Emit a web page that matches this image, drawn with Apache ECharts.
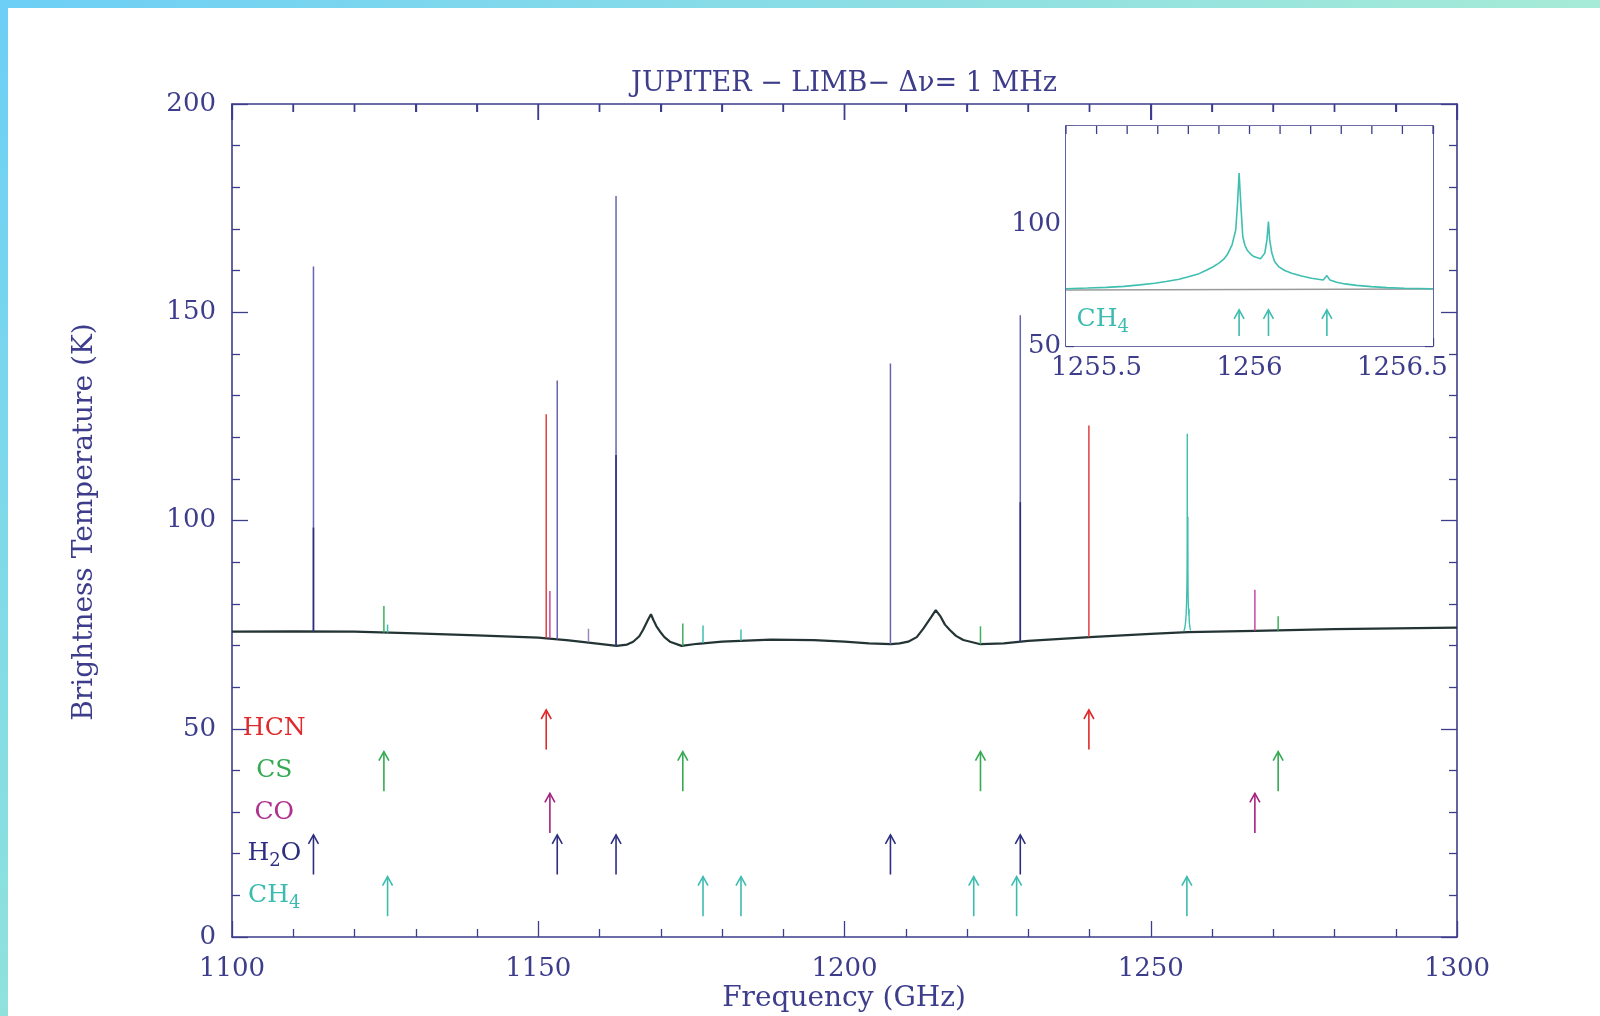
<!DOCTYPE html>
<html>
<head>
<meta charset="utf-8">
<title>Jupiter limb spectrum</title>
<script src="https://cdn.jsdelivr.net/npm/echarts@6/dist/echarts.min.js"></script>
<style>
  html, body { margin: 0; padding: 0; background: #fff; }
  #chart { width: 1600px; height: 1016px; }
</style>
</head>
<body>
<div id="chart"></div>
<script>
// continuum (GHz, K)
const contFreq = [1100, 1110, 1120, 1130, 1140, 1150, 1155, 1160, 1162.8, 1164.5, 1165.5, 1166.5, 1167.1, 1167.9,
  1168.4, 1168.8, 1169.3, 1169.9, 1170.6, 1171.5, 1173.4, 1176, 1180, 1188, 1195, 1200, 1204, 1207.6, 1209, 1210.4,
  1211.8, 1212.9, 1214.2, 1214.9, 1215.7, 1216.4, 1217.2, 1218.2, 1219.4, 1222.2, 1226, 1230, 1240, 1250, 1256,
  1267, 1280, 1290, 1300];
const contTemp = [73.3, 73.4, 73.3, 72.9, 72.4, 71.9, 71.2, 70.4, 69.9, 70.2, 70.9, 72.2, 73.7, 76.1,
  77.5, 76.1, 74.6, 73.3, 72.0, 70.9, 69.9, 70.4, 70.9, 71.4, 71.3, 70.9, 70.5, 70.3, 70.5, 70.9,
  72.0, 74.1, 76.9, 78.5, 76.9, 75.0, 73.7, 72.3, 71.3, 70.3, 70.5, 71.1, 72.0, 72.8, 73.2,
  73.5, 73.9, 74.1, 74.3];

// narrow lines: frequency, continuum under the line, peak
const h2oFreq = [1113.3, 1153.1, 1162.7, 1207.5, 1228.7];
const h2oBase = [73.4, 71.5, 69.9, 70.3, 70.9];
const h2oPeak = [161.0, 133.6, 177.9, 137.7, 149.3];
const h2oCore = [98.3, null, 115.7, null, 104.4];

const hcnFreq = [1151.3, 1239.9];
const hcnBase = [71.8, 72.0];
const hcnPeak = [125.5, 122.8];

const coFreq = [1151.9, 1267.0];
const coBase = [71.7, 73.5];
const coPeak = [83.1, 83.4];

const csFreq = [1124.8, 1173.6, 1222.2, 1270.8];
const csBase = [73.1, 69.9, 70.3, 73.6];
const csPeak = [79.5, 75.3, 74.6, 77.0];

const ch4Freq = [1125.4, 1176.9, 1183.1, 1221.1, 1228.1, 1255.9];
const ch4Base = [73.1, 70.6, 71.1, 70.4, 70.8, 73.2];
const ch4Peak = [75.0, 74.8, 73.8, null, null, null];

const otherFreq = [1158.2];
const otherBase = [70.8];
const otherPeak = [74.0];

// CH4 triplet near 1256 GHz (inset, also drawn in the main panel)
const ch4ZoomFreq = [1255.4, 1255.47, 1255.532, 1255.59, 1255.641, 1255.69, 1255.727, 1255.77, 1255.803, 1255.835,
  1255.857, 1255.88, 1255.9, 1255.915, 1255.927, 1255.943, 1255.955, 1255.961, 1255.966, 1255.972, 1255.978,
  1255.985, 1255.992, 1256.003, 1256.014, 1256.036, 1256.05, 1256.057, 1256.062, 1256.066, 1256.073, 1256.082,
  1256.095, 1256.115, 1256.138, 1256.17, 1256.203, 1256.241, 1256.253, 1256.263, 1256.285, 1256.312, 1256.35,
  1256.398, 1256.45, 1256.506, 1256.6];
const ch4ZoomTemp = [73.4, 73.7, 74.0, 74.4, 75.0, 75.7, 76.4, 77.3, 78.4, 79.6,
  80.9, 82.3, 83.9, 85.4, 87.3, 91.4, 97.5, 108.5, 120.8, 107.1, 94.8,
  91.2, 89.3, 87.7, 86.6, 85.7, 88.0, 93.4, 100.9, 93.4, 88.0, 84.6,
  82.5, 80.9, 79.8, 78.6, 77.7, 77.0, 78.8, 77.0, 76.1, 75.4, 74.8,
  74.3, 73.9, 73.6, 73.4];
const insetBaseFreq = [1255.4, 1256.6];
const insetBaseTemp = [72.9, 73.3];
const insetArrowFreq = [1255.966, 1256.062, 1256.253];

// identification rows (K) for the arrows
const rowHCN = 50, rowCS = 40, rowCO = 30, rowH2O = 20, rowCH4 = 10;

const FONT = "'DejaVu Serif', 'Liberation Serif', serif";
const NAVY = '#3d3d8c';
const LABEL_FREQ = 1106.9;

const zip = (a, b) => a.map((v, i) => [v, b[i]]);

function spikes(name, freq, base, peak, color, width) {
  return {
    name, type: 'custom', xAxisIndex: 0, yAxisIndex: 0, z: 3, silent: true,
    data: freq.map((f, i) => [f, base[i], peak[i]]).filter(d => d[2] != null),
    renderItem: (params, api) => {
      const a = api.coord([api.value(0), api.value(1)]);
      const b = api.coord([api.value(0), api.value(2)]);
      return { type: 'line', shape: { x1: a[0], y1: a[1], x2: b[0], y2: b[1] },
        style: { stroke: color, lineWidth: width } };
    }
  };
}

function arrows(name, freq, lo, hi, color, xi, yi) {
  return {
    name, type: 'custom', xAxisIndex: xi, yAxisIndex: yi, z: 4, silent: true,
    data: freq.map(f => [f, lo, hi]),
    renderItem: (params, api) => {
      const a = api.coord([api.value(0), api.value(1)]);
      const b = api.coord([api.value(0), api.value(2)]);
      return { type: 'group', children: [
        { type: 'line', shape: { x1: a[0], y1: a[1], x2: b[0], y2: b[1] },
          style: { stroke: color, lineWidth: 1.6 } },
        { type: 'polyline', shape: { points: [[b[0] - 5, b[1] + 9], [b[0], b[1]], [b[0] + 5, b[1] + 9]] },
          style: { stroke: color, fill: null, lineWidth: 1.6 } }
      ] };
    }
  };
}

function richFor(color, size) {
  return {
    m: { fontFamily: FONT, fontSize: size, fill: color },
    s: { fontFamily: FONT, fontSize: Math.round(size * 0.72), fill: color, padding: [16, 0, 0, 0] }
  };
}

function label(name, text, freq, row, color, xi, yi) {
  return {
    name, type: 'custom', xAxisIndex: xi, yAxisIndex: yi, z: 4, silent: true,
    data: [[freq, row]],
    renderItem: (params, api) => {
      const p = api.coord([api.value(0), api.value(1)]);
      return { type: 'text', x: p[0], y: p[1],
        style: { text, rich: richFor(color, 25), align: 'center', verticalAlign: 'middle',
          font: '25px ' + FONT, fill: color } };
    }
  };
}

// inset top-frame ticks (the second x axis draws its line but no ticks)
function topTicks(name, xi, yi, from, step, count, yTop, len) {
  const vals = Array.from({ length: count }, (_, i) => +(from + i * step).toFixed(3));
  return {
    name, type: 'custom', xAxisIndex: xi, yAxisIndex: yi, z: 50, silent: true, clip: false,
    data: vals.map(v => [v, yTop]),
    renderItem: (params, api) => {
      const p = api.coord([api.value(0), api.value(1)]);
      return { type: 'rect', shape: { x: p[0] - 0.65, y: p[1], width: 1.3, height: len },
        style: { fill: NAVY } };
    }
  };
}

// main top-frame ticks: every 10 GHz, long ones every 50 GHz (lengths given in K: 16 px and 8 px)
const mainTopTickVals = Array.from({ length: 21 }, (_, i) => 1100 + i * 10);
const mainTopTickEnd = mainTopTickVals.map(v => (v % 50 === 0 ? 200 - 16 / 4.165 : 200 - 8 / 4.165));

const tickStyle = { lineStyle: { color: NAVY, width: 1.3 } };
const axisLine = () => ({ show: true, onZero: false, lineStyle: { color: NAVY, width: 1.6 } });

function mainX(pos) {
  return {
    type: 'value', gridIndex: 0, position: pos, min: 1100, max: 1300, interval: 50,
    axisLine: axisLine(), splitLine: { show: false },
    axisTick: { show: true, inside: true, length: 16, ...tickStyle },
    minorTick: { show: true, splitNumber: 5, length: 8, ...tickStyle },
    axisLabel: { show: pos === 'bottom', margin: 19, color: NAVY, fontFamily: FONT, fontSize: 26,
      formatter: v => String(v) }
  };
}
function mainY(pos) {
  return {
    type: 'value', gridIndex: 0, position: pos, min: 0, max: 200, interval: 50,
    axisLine: axisLine(), splitLine: { show: false },
    axisTick: { show: true, inside: true, length: 16, ...tickStyle },
    minorTick: { show: true, splitNumber: 5, length: 8, ...tickStyle },
    axisLabel: { show: pos === 'left', margin: 16, color: NAVY, fontFamily: FONT, fontSize: 26,
      formatter: v => String(v) }
  };
}
function insetX(pos) {
  return {
    type: 'value', gridIndex: 1, position: pos, min: 1255.4, max: 1256.6, interval: 0.1,
    axisLine: axisLine(), splitLine: { show: false },
    axisTick: { show: true, inside: true, length: 8, ...tickStyle },
    axisLabel: { show: pos === 'bottom', margin: 9, color: NAVY, fontFamily: FONT, fontSize: 26, interval: 0,
      formatter: v => Math.abs(v * 2 - Math.round(v * 2)) < 1e-6 ? String(parseFloat(v.toFixed(1))) : '' }
  };
}
function insetY(pos) {
  return {
    type: 'value', gridIndex: 1, position: pos, min: 50, max: 140, interval: 10,
    axisLine: axisLine(), splitLine: { show: false },
    axisTick: { show: true, inside: true, length: 8, ...tickStyle },
    axisLabel: { show: pos === 'left', margin: 5, color: NAVY, fontFamily: FONT, fontSize: 26, interval: 0,
      formatter: v => (Math.round(v) % 50 === 0 ? String(Math.round(v)) : '') }
  };
}

const option = {
  backgroundColor: '#fff',
  animation: false,
  grid: [
    { left: 232, top: 104, width: 1225, height: 833 },
    { left: 1066, top: 126, width: 367, height: 220, show: true, backgroundColor: '#fff', borderWidth: 0, z: 1 }
  ],
  xAxis: [mainX('bottom'), mainX('top'), insetX('bottom'), insetX('top')],
  yAxis: [mainY('left'), mainY('right'), insetY('left'), insetY('right')],
  graphic: [
    { type: 'rect', shape: { x: 0, y: 0, width: 1600, height: 8 }, silent: true,
      style: { fill: new echarts.graphic.LinearGradient(0, 0, 1, 0, [
        { offset: 0, color: '#6dcff6' }, { offset: 1, color: '#a6ebd6' }]) } },
    { type: 'rect', shape: { x: 0, y: 0, width: 8, height: 1016 }, silent: true,
      style: { fill: new echarts.graphic.LinearGradient(0, 0, 0, 1, [
        { offset: 0, color: '#6dcff6' }, { offset: 1, color: '#8fe2dc' }]) } },
    { type: 'text', x: 844, y: 84, silent: true,
      style: { text: 'JUPITER \u2212 LIMB\u2212 \u0394\u03bd= 1 MHz', font: '27px ' + FONT, fill: NAVY,
        align: 'center', verticalAlign: 'middle' } },
    { type: 'text', x: 844, y: 999, silent: true,
      style: { text: 'Frequency (GHz)', font: '28px ' + FONT, fill: NAVY, align: 'center', verticalAlign: 'middle' } },
    { type: 'text', x: 85, y: 522, rotation: Math.PI / 2, silent: true,
      style: { text: 'Brightness Temperature (K)', font: '28px ' + FONT, fill: NAVY,
        align: 'center', verticalAlign: 'middle' } }
  ],
  series: [
    { name: 'continuum', type: 'line', xAxisIndex: 0, yAxisIndex: 0, data: zip(contFreq, contTemp),
      showSymbol: false, z: 2, lineStyle: { color: '#243434', width: 2.2 } },
    { name: 'CH4 1256', type: 'line', xAxisIndex: 0, yAxisIndex: 0, data: zip(ch4ZoomFreq, ch4ZoomTemp),
      showSymbol: false, z: 3, lineStyle: { color: '#3fbfb0', width: 1.4 } },
    spikes('H2O', h2oFreq, h2oBase, h2oPeak, '#6864b0', 1.5),
    spikes('H2O core', h2oFreq, h2oBase, h2oCore, '#2e2e7e', 1.6),
    spikes('HCN', hcnFreq, hcnBase, hcnPeak, '#e04040', 1.5),
    spikes('CO', coFreq, coBase, coPeak, '#c8489c', 1.5),
    spikes('CS', csFreq, csBase, csPeak, '#3cb05a', 1.5),
    spikes('CH4', ch4Freq, ch4Base, ch4Peak, '#3fbfb0', 1.5),
    spikes('other', otherFreq, otherBase, otherPeak, '#9a88c0', 1.5),
    spikes('main top ticks', mainTopTickVals, mainTopTickVals.map(() => 200), mainTopTickEnd, NAVY, 1.3),

    arrows('HCN id', hcnFreq, rowHCN - 5, rowHCN + 4.5, '#e02a2a', 0, 0),
    arrows('CS id', csFreq, rowCS - 5, rowCS + 4.5, '#34aa52', 0, 0),
    arrows('CO id', coFreq, rowCO - 5, rowCO + 4.5, '#a42282', 0, 0),
    arrows('H2O id', h2oFreq, rowH2O - 5, rowH2O + 4.5, '#2e2e80', 0, 0),
    arrows('CH4 id', ch4Freq, rowCH4 - 5, rowCH4 + 4.5, '#3cbcb0', 0, 0),

    label('HCN lbl', '{m|HCN}', LABEL_FREQ, rowHCN, '#e02a2a', 0, 0),
    label('CS lbl', '{m|CS}', LABEL_FREQ, rowCS, '#34aa52', 0, 0),
    label('CO lbl', '{m|CO}', LABEL_FREQ, rowCO, '#b03090', 0, 0),
    label('H2O lbl', '{m|H}{s|2}{m|O}', LABEL_FREQ, rowH2O, '#2e2e80', 0, 0),
    label('CH4 lbl', '{m|CH}{s|4}', LABEL_FREQ, rowCH4, '#3cbcb0', 0, 0),

    { name: 'inset base', type: 'line', xAxisIndex: 2, yAxisIndex: 2, data: zip(insetBaseFreq, insetBaseTemp),
      showSymbol: false, z: 5, lineStyle: { color: '#9a9a9a', width: 1.6 } },
    { name: 'inset CH4', type: 'line', xAxisIndex: 2, yAxisIndex: 2, data: zip(ch4ZoomFreq, ch4ZoomTemp),
      showSymbol: false, z: 6, lineStyle: { color: '#3fbfb0', width: 1.6 } },
    arrows('inset id', insetArrowFreq, 54.1, 64.8, '#3cbcb0', 2, 2),
    label('inset lbl', '{m|CH}{s|4}', 1255.52, 61, '#3cbcb0', 2, 2),
    topTicks('inset top ticks', 2, 2, 1255.4, 0.1, 13, 140, 8)
  ]
};

const chart = echarts.init(document.getElementById('chart'));
chart.setOption(option);

// also place the main top ticks straight on the zrender layer, positioned through the axis scale
const zr = chart.getZr();
mainTopTickVals.forEach((v, i) => {
  const a = chart.convertToPixel({ xAxisIndex: 0, yAxisIndex: 0 }, [v, 200]);
  const b = chart.convertToPixel({ xAxisIndex: 0, yAxisIndex: 0 }, [v, mainTopTickEnd[i]]);
  if (!a || !b) return;
  zr.add(new echarts.graphic.Line({
    silent: true, z: 100,
    shape: { x1: a[0], y1: a[1], x2: b[0], y2: b[1] },
    style: { stroke: NAVY, lineWidth: 1.3 }
  }));
});
</script>
</body>
</html>
